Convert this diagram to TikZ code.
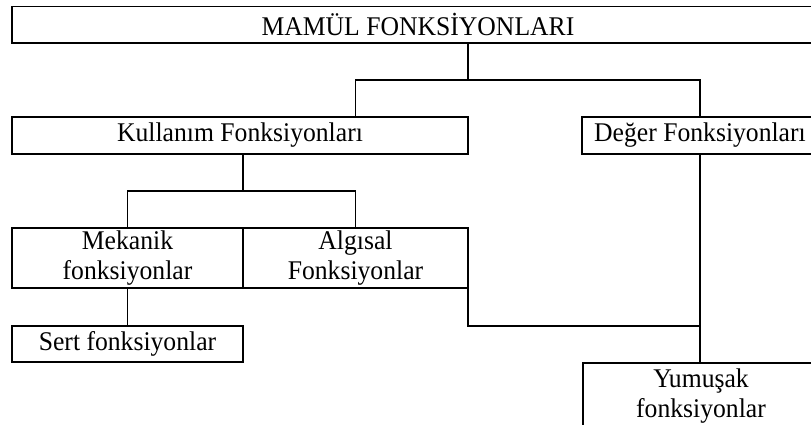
\documentclass[tikz,border=0pt]{standalone}
\usepackage{fontspec}
\setmainfont[FakeStretch=0.95]{Liberation Serif}
\usetikzlibrary{positioning,calc}

\tikzset{
  box/.style={draw, line width=1.8pt, inner sep=0pt, outer sep=0pt, align=center,
    minimum height=37pt, font=\fontsize{27}{30}\selectfont},
  link/.style={draw, line width=1.8pt},
}

\begin{document}
\begin{tikzpicture}[x=1pt,y=-1pt]
            \clip (0,0) rectangle (811,425);

            % Define nodes
            \node[box, minimum width=812pt, minimum height=36.5pt, anchor=north west] (mamul) at (12,6.5) {MAMÜL FONKSİYONLARI};
            \node[box, minimum width=456pt, anchor=north west] (kul) at (12,117) {Kullanım Fonksiyonları};
            \node[box, minimum width=236pt, right=114pt of kul.north east, anchor=north west] (deg) {Değer Fonksiyonları};

            \node[box, minimum width=231pt, minimum height=60pt, below=74pt of kul.south west, anchor=north west] (mek) {Mekanik\\fonksiyonlar};
            \node[box, minimum width=225pt, minimum height=60pt, right=0pt of mek] (alg) {Algısal\\Fonksiyonlar};
            \node[box, minimum width=231pt, minimum height=36pt, below=38pt of mek.south west, anchor=north west] (sert) {Sert fonksiyonlar};
            \node[box, minimum width=236pt, minimum height=66pt, below=209pt of deg.south west, xshift=1pt, anchor=north west] (yum) {Yumuşak\\fonksiyonlar};

            % Joints
            \coordinate (j1) at ($(mamul.south -| kul.east)+(0,37)$);
            \coordinate (j2) at ($(kul.south -| alg.west)+(0,37)$);

            % Connect the nodes
            \draw[link] (mamul.south -| kul.east) -- (j1);
            \draw[link] (alg.north |- kul.north) -- (alg.north |- j1) -- (deg.north |- j1) -- (deg.north);
            \draw[link] (kul.south -| alg.west) -- (j2);
            \draw[link] (mek.north) -- (mek.north |- j2) -- (alg.north |- j2) -- (alg.north);
            \draw[link] (mek) -- (sert);
            \draw[link] (alg.south east) -- (alg.south east |- sert.north) -- (deg.south |- sert.north);
            \draw[link] (deg) -- (deg.south |- yum.north);
\end{tikzpicture}
\end{document}
